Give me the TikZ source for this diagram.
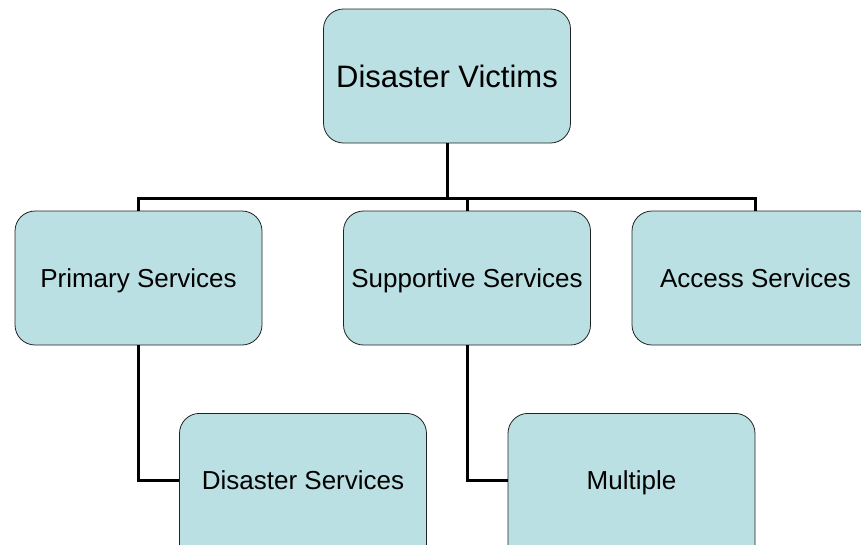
\documentclass[tikz,border=0pt]{standalone}
\usepackage{fontspec}
\setmainfont{Liberation Sans}
\definecolor{boxfill}{HTML}{BBE0E3}
\definecolor{boxline}{HTML}{222222}
\begin{document}
\begin{tikzpicture}[x=1pt,y=-1pt,
  box/.style={draw=boxline, line width=0.8pt, fill=boxfill, rounded corners=20pt,
    minimum width=247pt, minimum height=134pt, inner sep=0pt,
    text height=18.6pt, text depth=0pt, font=\fontsize{26pt}{30pt}\selectfont},
  tallbox/.style={box, minimum height=170pt, anchor=north},
  lbl/.style={inner sep=0pt, text height=18.6pt, text depth=0pt, font=\fontsize{26pt}{30pt}\selectfont},
  conn/.style={draw=black, line width=3pt, line join=miter}]
\useasboundingbox (0,0) rectangle (861,544);
\clip (0,0) rectangle (861,544);
\node[box, text height=22.2pt, font=\fontsize{31pt}{36pt}\selectfont] (top) at (447,76) {Disaster Victims};
\node[box] (prim) at (138.5,278) {Primary Services};
\node[box] (supp) at (467,278) {Supportive Services};
\node[box] (acc) at (755.5,278) {Access Services};
\node[tallbox] (dis) at (303,413) {};
\node[lbl] (distxt) at (303,480.5) {Disaster Services};
\node[tallbox] (mul) at (631.5,413) {};
\node[lbl] (multxt) at (631.5,480.5) {Multiple};
\coordinate (bus) at (447,198);
\draw[conn] (top.south) -- (bus) -| (prim.north);
\draw[conn] (top.south) -- (bus) -| (supp.north);
\draw[conn] (top.south) -- (bus) -| (acc.north);
\draw[conn] (prim.south) |- (dis.west |- distxt);
\draw[conn] (supp.south) |- (mul.west |- multxt);
\end{tikzpicture}
\end{document}
